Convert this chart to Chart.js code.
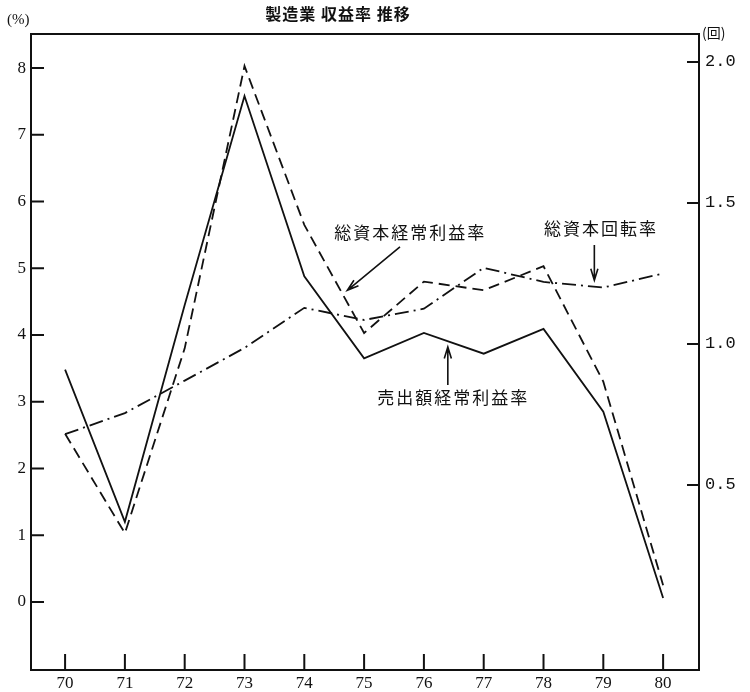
<!DOCTYPE html>
<html>
<head>
  <meta charset="utf-8">
  <title>製造業 収益率 推移</title>
  <script src="https://cdn.jsdelivr.net/npm/chart.js"></script>
  <style>
    body { margin: 0; background: #fff; }
    .chart-box { width: 750px; height: 692px; position: relative; }
  </style>
</head>
<body>
  <div class="chart-box">
    <canvas id="profitChart"></canvas>
  </div>

  <script>
    // years (x axis) and the three series
    const years = [70, 71, 72, 73, 74, 75, 76, 77, 78, 79, 80];
    const salesMargin = [3.48, 1.2, 4.45, 7.58, 4.88, 3.65, 4.03, 3.72, 4.09, 2.85, 0.06];   // 売出額経常利益率 (%)
    const assetMargin = [2.52, 1.03, 3.8, 8.03, 5.65, 4.03, 4.8, 4.67, 5.03, 3.3, 0.25];     // 総資本経常利益率 (%)
    const assetTurnover = [0.68, 0.755, 0.87, 0.986, 1.128, 1.085, 1.125, 1.27, 1.22, 1.2, 1.25]; // 総資本回転率 (回)
    const leftTicks = [0, 1, 2, 3, 4, 5, 6, 7, 8];
    const rightTicks = [0.5, 1.0, 1.5, 2.0];

    // label + arrow placements, in (year, %) units
    const notes = [
      { text: '総資本経常利益率', x: 75.77, y: 5.53, from: [75.60, 5.32], to: [74.72, 4.67] },
      { text: '総資本回転率', x: 78.96, y: 5.60, from: [78.85, 5.35], to: [78.85, 4.82] },
      { text: '売出額経常利益率', x: 76.49, y: 3.07, from: [76.40, 3.25], to: [76.40, 3.82] }
    ];

    const toPoints = (vals) => vals.map((v, i) => ({ x: years[i], y: v }));
    const numFont = { family: 'Liberation Serif', size: 17 };

    // frame, inward ticks, titles and arrows
    const decorations = {
      id: 'decorations',
      afterDraw(chart) {
        const ctx = chart.ctx;
        const a = chart.chartArea;
        const xs = chart.scales.x, yl = chart.scales.yLeft, yr = chart.scales.yRight;
        ctx.save();
        ctx.strokeStyle = '#111';
        ctx.lineWidth = 2;
        ctx.strokeRect(a.left, a.top, a.right - a.left, a.bottom - a.top);

        ctx.beginPath();
        leftTicks.forEach(v => {
          const y = yl.getPixelForValue(v);
          ctx.moveTo(a.left, y); ctx.lineTo(a.left + 13, y);
        });
        rightTicks.forEach(v => {
          const y = yr.getPixelForValue(v);
          ctx.moveTo(a.right, y); ctx.lineTo(a.right - 12, y);
        });
        years.forEach(v => {
          const x = xs.getPixelForValue(v);
          ctx.moveTo(x, a.bottom); ctx.lineTo(x, a.bottom - 16);
        });
        ctx.stroke();

        ctx.fillStyle = '#111';
        ctx.textBaseline = 'middle';
        ctx.textAlign = 'center';
        ctx.font = 'bold 16px "Noto Sans CJK JP"';
        ctx.letterSpacing = '1px';
        ctx.fillText('製造業 収益率 推移', 338, 14);
        ctx.letterSpacing = '0px';
        ctx.font = '15px "Liberation Serif"';
        ctx.textAlign = 'left';
        ctx.fillText('(%)', 7, 20);
        ctx.font = '14px "Noto Sans CJK JP"';
        ctx.fillText('(回)', 702, 33);

        ctx.font = '17px "Noto Sans CJK JP"';
        ctx.letterSpacing = '2px';
        ctx.textAlign = 'center';
        ctx.lineWidth = 1.6;
        notes.forEach(n => {
          ctx.fillText(n.text, xs.getPixelForValue(n.x), yl.getPixelForValue(n.y));
          const x1 = xs.getPixelForValue(n.from[0]), y1 = yl.getPixelForValue(n.from[1]);
          const x2 = xs.getPixelForValue(n.to[0]), y2 = yl.getPixelForValue(n.to[1]);
          const ang = Math.atan2(y2 - y1, x2 - x1);
          ctx.beginPath();
          ctx.moveTo(x1, y1); ctx.lineTo(x2, y2);
          ctx.moveTo(x2 - 12 * Math.cos(ang - 0.3), y2 - 12 * Math.sin(ang - 0.3));
          ctx.lineTo(x2, y2);
          ctx.lineTo(x2 - 12 * Math.cos(ang + 0.3), y2 - 12 * Math.sin(ang + 0.3));
          ctx.stroke();
        });
        ctx.restore();
      }
    };

    new Chart(document.getElementById('profitChart'), {
      type: 'line',
      data: {
        datasets: [
          {
            label: '売出額経常利益率',
            data: toPoints(salesMargin),
            yAxisID: 'yLeft',
            borderColor: '#111',
            borderWidth: 1.8,
            pointRadius: 0,
            tension: 0
          },
          {
            label: '総資本経常利益率',
            data: toPoints(assetMargin),
            yAxisID: 'yLeft',
            borderColor: '#111',
            borderWidth: 1.8,
            borderDash: [11, 6],
            pointRadius: 0,
            tension: 0
          },
          {
            label: '総資本回転率',
            data: toPoints(assetTurnover),
            yAxisID: 'yRight',
            borderColor: '#111',
            borderWidth: 1.8,
            borderDash: [14, 5, 2, 5],
            pointRadius: 0,
            tension: 0
          }
        ]
      },
      options: {
        responsive: true,
        maintainAspectRatio: false,
        animation: false,
        layout: { padding: { top: 34, left: 0, right: 0, bottom: 0 } },
        plugins: {
          legend: { display: false },
          tooltip: { enabled: false }
        },
        scales: {
          x: {
            type: 'linear',
            min: 69.43,
            max: 80.6,
            afterBuildTicks: (s) => { s.ticks = years.map(v => ({ value: v })); },
            afterFit: (s) => { s.height = 22; },
            grid: { display: false, drawTicks: false },
            border: { display: false },
            ticks: { color: '#111', font: numFont, padding: 3, maxRotation: 0, autoSkip: false }
          },
          yLeft: {
            type: 'linear',
            position: 'left',
            min: -1.02,
            max: 8.51,
            afterBuildTicks: (s) => { s.ticks = leftTicks.map(v => ({ value: v })); },
            afterFit: (s) => { s.width = 31; },
            grid: { display: false, drawTicks: false },
            border: { display: false },
            ticks: { color: '#111', font: numFont, padding: 5 }
          },
          yRight: {
            type: 'linear',
            position: 'right',
            min: -0.156,
            max: 2.099,
            afterBuildTicks: (s) => { s.ticks = rightTicks.map(v => ({ value: v })); },
            afterFit: (s) => { s.width = 51; },
            grid: { display: false, drawTicks: false },
            border: { display: false },
            ticks: {
              color: '#111',
              font: { family: 'Liberation Mono', size: 17 },
              padding: 6,
              callback: (v) => v.toFixed(1)
            }
          }
        }
      },
      plugins: [decorations]
    });
  </script>
</body>
</html>
